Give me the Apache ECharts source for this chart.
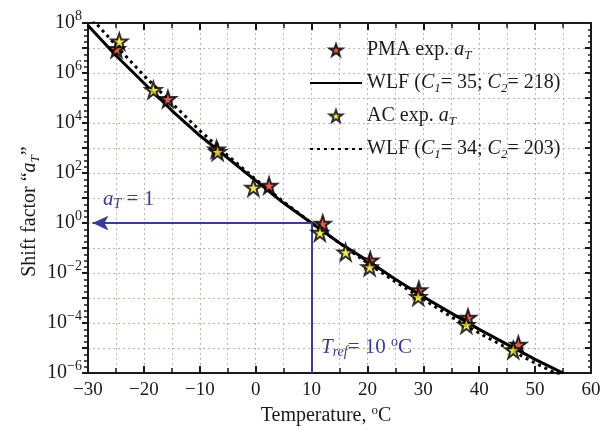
<!DOCTYPE html>
<html>
<head>
<meta charset="utf-8">
<script src="https://cdn.jsdelivr.net/npm/echarts@6/dist/echarts.min.js"></script>
<style>
  html, body { margin: 0; padding: 0; background: #fff; }
  #chart { width: 605px; height: 431px; }
</style>
</head>
<body>
<div id="chart"></div>
<script>
// Shift factor versus temperature; values are stored as log10(a_T)
// and plotted on a decade axis labelled 10^n.
const pmaTemp = [-24.9, -15.7, -7.0, 2.4, 12.0, 20.5, 29.2, 38.0, 47.0];
const pmaLogA = [6.96, 4.96, 2.95, 1.50, -0.02, -1.49, -2.68, -3.78, -4.86];

const acTemp = [-24.4, -18.3, -6.8, -0.4, 11.5, 16.1, 20.4, 29.1, 37.7, 46.1];
const acLogA = [7.26, 5.32, 2.85, 1.42, -0.38, -1.17, -1.76, -2.95, -4.07, -5.08];

const curveTemp = [-30, -25, -20, -15, -10, -5, 0, 5, 10, 15, 20, 25, 30, 35, 40, 45, 50, 55];
const wlf35LogA = [7.9, 6.7, 5.6, 4.5, 3.5, 2.6, 1.7, 0.8, 0, -0.8, -1.5, -2.25, -2.95, -3.6, -4.25, -4.85, -5.45, -6.0];
const wlf34LogA = [8.35, 7.1, 5.9, 4.8, 3.7, 2.7, 1.75, 0.85, 0, -0.8, -1.6, -2.35, -3.05, -3.75, -4.4, -5.0, -5.6, -6.15];

// Reference temperature marker (a_T = 10^0 at T_ref)
const tRef = 10;
const logATRef = 0;

const seriesNames = ['PMA exp. aT', 'WLF (C1= 35; C2= 218)', 'AC exp. aT', 'WLF (C1= 34; C2= 203)'];
const legendText = {
  'PMA exp. aT': '{n|PMA exp. }{i|a}{sub|T}',
  'WLF (C1= 35; C2= 218)': '{n|WLF (}{i|C}{sub|1}{n|= 35; }{i|C}{sub|2}{n|= 218)}',
  'AC exp. aT': '{n|AC exp. }{i|a}{sub|T}',
  'WLF (C1= 34; C2= 203)': '{n|WLF (}{i|C}{sub|1}{n|= 34; }{i|C}{sub|2}{n|= 203)}'
};

const FONT = '"Liberation Serif", "DejaVu Serif", serif';
const INK = '#1a1a1a';
const BLUE = '#3b3b98';
const STAR = 'path://M50,0 L61.8,34.5 L97.6,34.5 L68.8,55.9 L79.4,90.5 L50,69.1 L20.6,90.5 L31.2,55.9 L2.4,34.5 L38.2,34.5 Z';

const toPoints = (xs, ys) => xs.map((x, i) => [x, ys[i]]);

const gridLine = { show: true, lineStyle: { color: '#c4b2a8', width: 1, type: [2, 3] } };
const frameLine = { show: true, onZero: false, lineStyle: { color: INK, width: 2 } };

const richBase = {
  n: { fontFamily: FONT, fontSize: 20, lineHeight: 24, color: INK },
  i: { fontFamily: FONT, fontSize: 20, lineHeight: 24, fontStyle: 'italic', color: INK },
  sub: { fontFamily: FONT, fontSize: 13, lineHeight: 13, fontStyle: 'italic', verticalAlign: 'bottom', color: INK },
  sup: { fontFamily: FONT, fontSize: 13, lineHeight: 13, verticalAlign: 'top', color: INK }
};

const chart = echarts.init(document.getElementById('chart'), null, { renderer: 'canvas' });

const option = {
  backgroundColor: '#fff',
  animation: false,
  grid: { left: 88, right: 14, top: 23, bottom: 54, containLabel: false },
  xAxis: [
    {
      type: 'value', min: -30, max: 60, interval: 10, position: 'bottom',
      axisLine: frameLine,
      axisTick: { show: true, inside: true, length: 7, lineStyle: { color: INK, width: 2 } },
      minorTick: { show: true, splitNumber: 2, length: 5, lineStyle: { color: INK, width: 1.5 } },
      splitLine: gridLine,
      minorSplitLine: gridLine,
      axisLabel: {
        margin: 7, fontFamily: FONT, fontSize: 19, color: INK,
        formatter: v => (v < 0 ? '\u2212' + (-v) : String(v))
      },
      name: '{n|Temperature, }{sup|o}{n|C}',
      nameLocation: 'middle', nameGap: 29,
      nameTextStyle: { padding: [0, 27, 0, 0], rich: richBase }
    },
    {
      type: 'value', min: -30, max: 60, interval: 10, position: 'top',
      axisLine: frameLine,
      axisTick: { show: true, inside: true, length: 7, lineStyle: { color: INK, width: 2 } },
      minorTick: { show: true, splitNumber: 2, length: 5, lineStyle: { color: INK, width: 1.5 } },
      axisLabel: { show: false },
      splitLine: { show: false }
    }
  ],
  yAxis: [
    {
      type: 'value', min: -6, max: 8, interval: 1, position: 'left',
      axisLine: frameLine,
      axisTick: { show: true, inside: false, length: 6, lineStyle: { color: INK, width: 2 } },
      minorTick: { show: true, splitNumber: 4, length: 4, lineStyle: { color: INK, width: 1.5 } },
      splitLine: gridLine,
      axisLabel: {
        margin: 6,
        formatter: e => {
          if (e % 2 !== 0) return '';
          return '{b|10}{s|' + (e < 0 ? '\u2212' + (-e) : e) + '}';
        },
        rich: {
          b: { fontFamily: FONT, fontSize: 20, lineHeight: 28, color: INK },
          s: { fontFamily: FONT, fontSize: 14, lineHeight: 14, verticalAlign: 'top', color: INK }
        }
      },
      name: '{n|Shift factor \u201C}{i|a}{sub|T}{n|\u201D}',
      nameLocation: 'middle', nameRotate: 90, nameGap: 46,
      nameMoveOverlap: false,
      nameTextStyle: { padding: [0, 27, 0, 0], rich: richBase }
    },
    {
      type: 'value', min: -6, max: 8, interval: 1, position: 'right',
      axisLine: frameLine,
      axisTick: { show: true, inside: true, length: 6, lineStyle: { color: INK, width: 2 } },
      minorTick: { show: true, splitNumber: 4, length: 3, lineStyle: { color: INK, width: 1.5 } },
      axisLabel: { show: false },
      splitLine: { show: false }
    }
  ],
  legend: {
    orient: 'vertical', left: 304, top: 35,
    itemWidth: 52, itemHeight: 12, itemGap: 11,
    data: seriesNames,
    selectedMode: false,
    formatter: name => legendText[name],
    textStyle: { fontFamily: FONT, fontSize: 20, color: INK, rich: richBase }
  },
  series: [
    {
      name: seriesNames[1], type: 'line', xAxisIndex: 0, yAxisIndex: 0,
      data: toPoints(curveTemp, wlf35LogA),
      symbol: 'none', showSymbol: false, clip: true, z: 3,
      lineStyle: { color: '#000', width: 3 },
      itemStyle: { color: 'rgba(0,0,0,0)' },
      markLine: {
        silent: true, animation: false,
        symbol: ['none', 'none'],
        label: { show: false },
        lineStyle: { color: BLUE, width: 2, type: 'solid' },
        data: [
          [{ coord: [tRef, logATRef] }, { coord: [-29.2, logATRef], symbol: 'arrow', symbolSize: [11, 16] }],
          [{ coord: [tRef, logATRef] }, { coord: [tRef, -6] }]
        ]
      }
    },
    {
      name: seriesNames[3], type: 'line', xAxisIndex: 0, yAxisIndex: 0,
      data: toPoints(curveTemp, wlf34LogA),
      symbol: 'none', showSymbol: false, clip: true, z: 3,
      lineStyle: { color: '#000', width: 3, type: [3, 4] },
      itemStyle: { color: 'rgba(0,0,0,0)' }
    },
    {
      name: seriesNames[0], type: 'scatter', xAxisIndex: 0, yAxisIndex: 0,
      data: toPoints(pmaTemp, pmaLogA),
      symbol: STAR, symbolSize: 16, z: 5,
      itemStyle: { color: '#d8342a', borderColor: '#000', borderWidth: 2 }
    },
    {
      name: seriesNames[2], type: 'scatter', xAxisIndex: 0, yAxisIndex: 0,
      data: toPoints(acTemp, acLogA),
      symbol: STAR, symbolSize: 16, z: 6,
      itemStyle: { color: '#f2e23a', borderColor: '#000', borderWidth: 2 }
    }
  ],
  graphic: [
    {
      type: 'text', left: 103, top: 189, z: 10,
      style: {
        text: '{i|a}{sub|T}{n| = 1}',
        fill: BLUE,
        rich: {
          n: { fontFamily: FONT, fontSize: 21, lineHeight: 24, fill: BLUE },
          i: { fontFamily: FONT, fontSize: 21, lineHeight: 24, fontStyle: 'italic', fill: BLUE },
          sub: { fontFamily: FONT, fontSize: 14, lineHeight: 14, fontStyle: 'italic', verticalAlign: 'bottom', fill: BLUE }
        }
      }
    },
    {
      type: 'text', left: 321, top: 335, z: 10,
      style: {
        text: '{i|T}{sub|ref}{n|= 10 }{sup|o}{n|C}',
        fill: BLUE,
        rich: {
          n: { fontFamily: FONT, fontSize: 21, lineHeight: 24, fill: BLUE },
          i: { fontFamily: FONT, fontSize: 21, lineHeight: 24, fontStyle: 'italic', fill: BLUE },
          sub: { fontFamily: FONT, fontSize: 14, lineHeight: 14, fontStyle: 'italic', verticalAlign: 'bottom', fill: BLUE },
          sup: { fontFamily: FONT, fontSize: 14, lineHeight: 14, verticalAlign: 'top', fill: BLUE }
        }
      }
    }
  ]
};

chart.setOption(option);
</script>
</body>
</html>
